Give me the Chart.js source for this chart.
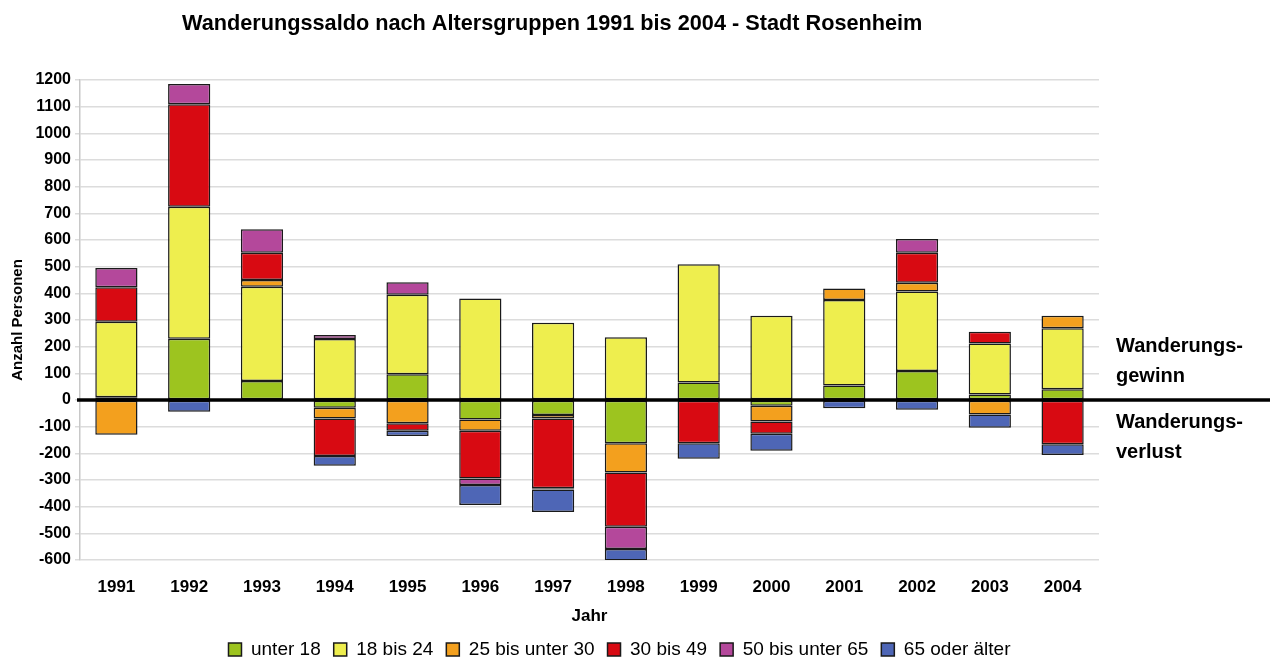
<!DOCTYPE html>
<html>
<head>
<meta charset="utf-8">
<script src="https://cdn.jsdelivr.net/npm/chart.js@4.4.1/dist/chart.umd.min.js"></script>
<style>
  html, body { margin: 0; padding: 0; background: #ffffff; }
  #wrap { width: 1270px; height: 672px; position: relative; }
</style>
</head>
<body>
<div id="wrap"><canvas id="c" width="1270" height="672"></canvas></div>
<script>
// ---- Data ----
const years = ['1991','1992','1993','1994','1995','1996','1997','1998','1999','2000','2001','2002','2003','2004'];
const unter18      = [ 10, 230,  71,  -29,  97,  -73,  -56, -162,   66,  -22,  54, 109,  21,   40];
const bis24        = [283, 495, 354,  229, 298,  381,  290,  235,  443,  316, 321, 298, 191,  229];
const bisUnter30   = [-130,  0,  25,  -40, -87,  -42,  -13, -110,    0,  -59,  43,  33, -54,   47];
const bis49        = [130, 384, 102, -141, -28, -179, -262, -203, -162,  -46,   0, 112,  44, -166];
const bisUnter65   = [ 72,  76,  88,   15,  47,  -25,   -5,  -84,    0,    0,   0,  52,   0,    0];
const oderAelter   = [  0, -44,   0,  -37, -20,  -75,  -84,  -43,  -58,  -63, -31, -37, -50,  -40];
const seriesNames  = ['unter 18','18 bis 24','25 bis unter 30','30 bis 49','50 bis unter 65','65 oder älter'];
const yTicks = { min: -600, max: 1200, step: 100 };
const titleText = 'Wanderungssaldo nach Altersgruppen 1991 bis 2004 - Stadt Rosenheim';
const sideNotes = ['Wanderungs-', 'gewinn', 'Wanderungs-', 'verlust'];

const colors = ['#9dc41f', '#eeee4e', '#f3a01e', '#d80a12', '#b4489b', '#4e66b6'];
const seriesData = [unter18, bis24, bisUnter30, bis49, bisUnter65, oderAelter];
const FONT = '"Liberation Sans", Arial, Helvetica, sans-serif';

const datasets = seriesData.map((d, i) => ({
  label: seriesNames[i],
  data: d,
  backgroundColor: colors[i],
  borderColor: '#1a1a1a',
  borderWidth: 1.5,
  borderSkipped: false,
  barPercentage: 0.58,
  categoryPercentage: 1.0
}));

const overlay = {
  id: 'overlay',
  afterLayout(chart) {
    // shift the legend row to sit where the reference has it
    const dx = 70;
    if (chart.legend) { chart.legend.left += dx; chart.legend.right += dx; }
  },
  afterDatasetsDraw(chart) {
    const ctx = chart.ctx;
    const y0 = chart.scales.y.getPixelForValue(0);
    ctx.save();
    ctx.strokeStyle = '#000';
    ctx.lineWidth = 3.5;
    ctx.beginPath();
    ctx.moveTo(77, y0);
    ctx.lineTo(1270, y0);
    ctx.stroke();
    ctx.restore();
  },
  afterDraw(chart) {
    const ctx = chart.ctx;
    ctx.save();
    ctx.fillStyle = '#000';
    ctx.textBaseline = 'alphabetic';
    ctx.textAlign = 'left';
    ctx.font = 'bold 21.7px ' + FONT;
    ctx.fillText(titleText, 182, 30);
    ctx.font = 'bold 20px ' + FONT;
    const ys = [352, 382, 428, 458];
    sideNotes.forEach((t, i) => ctx.fillText(t, 1116, ys[i]));
    ctx.restore();
  }
};

new Chart(document.getElementById('c'), {
  type: 'bar',
  data: { labels: years, datasets },
  options: {
    responsive: false,
    animation: false,
    layout: { padding: { top: 80, right: 171, bottom: 3, left: 0 } },
    plugins: {
      title: { display: false },
      tooltip: { enabled: false },
      legend: {
        display: true,
        position: 'bottom',
        labels: {
          boxWidth: 13,
          boxHeight: 13,
          padding: 13,
          color: '#000',
          font: { family: FONT, size: 19 }
        }
      }
    },
    scales: {
      x: {
        stacked: true,
        grid: { display: false, drawTicks: false },
        border: { display: false },
        ticks: { color: '#000', padding: 17, font: { family: FONT, size: 17, weight: 'bold' } },
        title: { display: true, text: 'Jahr', color: '#000', padding: { top: 2, bottom: 0 }, font: { family: FONT, size: 17, weight: 'bold' } },
        afterFit(scale) { scale.height = 672 - 3 - 560 - scale.chart.legend.height; }
      },
      y: {
        stacked: true,
        min: yTicks.min,
        max: yTicks.max,
        grid: { color: '#dcdcdc', lineWidth: 1.5, tickLength: 5, drawTicks: true },
        border: { display: true, color: '#c8c8c8', width: 1.5 },
        ticks: { stepSize: yTicks.step, color: '#000', padding: 4, font: { family: FONT, size: 16, weight: 'bold' },
                 callback: (v) => String(v) },
        title: { display: true, text: 'Anzahl Personen', color: '#000', padding: { top: 9, bottom: 0 }, font: { family: FONT, size: 15, weight: 'bold' } },
        afterFit(scale) { scale.width = 80; }
      }
    }
  },
  plugins: [overlay]
});
</script>
</body>
</html>
